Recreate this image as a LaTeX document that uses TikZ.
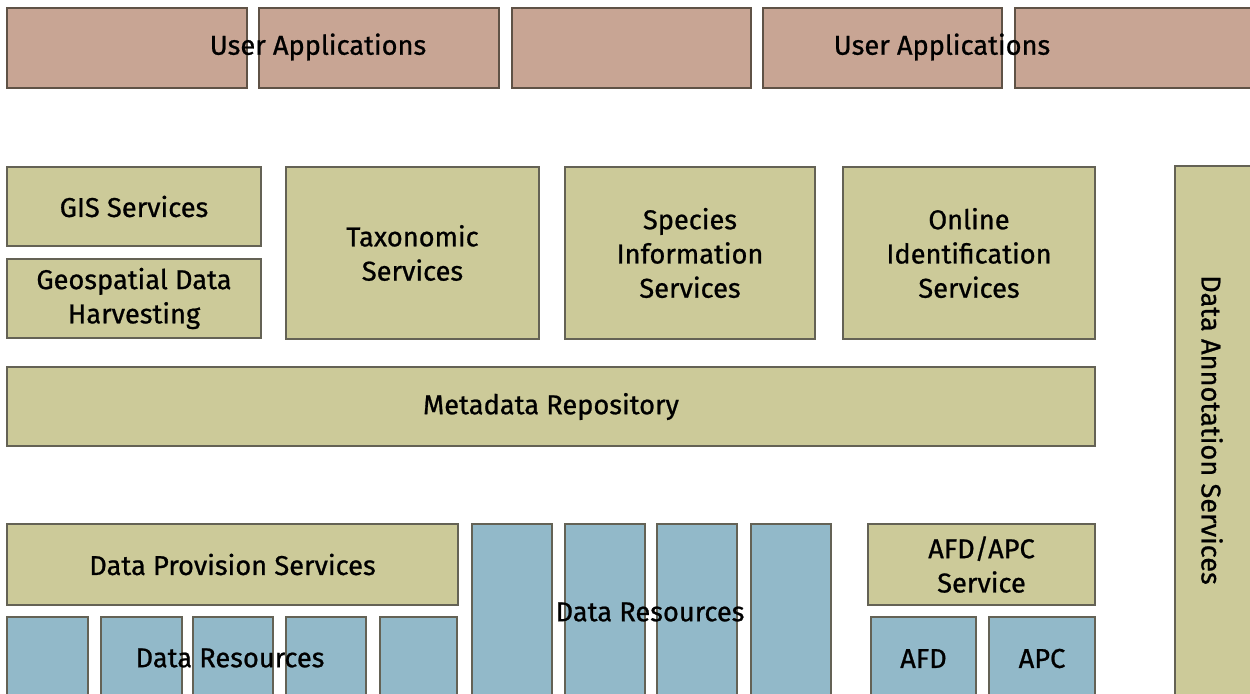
\documentclass[tikz,border=0pt]{standalone}
\usepackage{fontspec}
\setmainfont{Fira Sans}[UprightFeatures={FakeBold=0.8}]
\definecolor{apptan}{RGB}{200,165,148}
\definecolor{olive}{RGB}{204,202,153}
\definecolor{resblue}{RGB}{146,185,201}
\definecolor{edgegray}{RGB}{100,98,85}
\definecolor{edgebrown}{RGB}{95,82,70}
\newcommand\bx[7]{\node[#6, minimum width={(#4-#2)*0.02cm}, minimum height={(#5-#3)*0.02cm}] (#1) at ({(#2+#4)/2},{(#3+#5)/2}) {#7};}
\tikzset{
  base/.style={rectangle, inner sep=0pt, outer sep=0pt, line width=0.8pt, align=center,
    font=\fontsize{15.5}{19.5}\selectfont, text=black},
  appbox/.style={base, fill=apptan, draw=edgebrown},
  svcbox/.style={base, fill=olive, draw=edgegray},
  resbox/.style={base, fill=resblue, draw=edgegray},
  label/.style={inner sep=0pt, align=center, font=\fontsize{15.5}{19.5}\selectfont, text=black}
}
\begin{document}
\begin{tikzpicture}[x=0.02cm, y=-0.02cm]
\useasboundingbox[fill=white] (0,0) rectangle (1250,693);
% top row
\bx{ua1}{7}{8}{247}{88}{appbox}{}
\bx{ua2}{259}{8}{499}{88}{appbox}{}
\bx{ua3}{512}{8}{751}{88}{appbox}{}
\bx{ua4}{763}{8}{1002}{88}{appbox}{}
\bx{ua5}{1015}{8}{1260}{88}{appbox}{}
\node[label] (ualbl1) at (318,47) {User Applications};
\node[label] (ualbl2) at (942,47) {User Applications};
% services
\bx{gis}{7}{167}{261}{246}{svcbox}{GIS Services}
\bx{geo}{7}{259}{261}{338}{svcbox}{Geospatial Data\\Harvesting}
\bx{tax}{286}{167}{539}{339}{svcbox}{Taxonomic\\Services}
\bx{spec}{565}{167}{815}{339}{svcbox}{Species\\Information\\Services}
\bx{online}{843}{167}{1095}{339}{svcbox}{Online\\Identification\\Services}
\bx{meta}{7}{367}{1095}{446}{svcbox}{Metadata Repository}
\bx{annot}{1175}{166}{1260}{700}{svcbox}{}
\node[label, rotate=-90] (annotlbl) at (1212,430) {Data Annotation Services};
% bottom
\bx{dps}{7}{524}{458}{605}{svcbox}{Data Provision Services}
\bx{r1}{7}{617}{88}{700}{resbox}{}
\bx{r2}{101}{617}{182}{700}{resbox}{}
\bx{r3}{193}{617}{273}{700}{resbox}{}
\bx{r4}{286}{617}{366}{700}{resbox}{}
\bx{r5}{380}{617}{457}{700}{resbox}{}
\node[label] (reslbl1) at (230,658) {Data Resources};
\bx{t1}{472}{524}{552}{700}{resbox}{}
\bx{t2}{565}{524}{645}{700}{resbox}{}
\bx{t3}{657}{524}{737}{700}{resbox}{}
\bx{t4}{751}{524}{831}{700}{resbox}{}
\node[label] (reslbl2) at (650,612) {Data Resources};
\bx{afdapc}{868}{524}{1095}{605}{svcbox}{AFD/APC\\Service}
\bx{afd}{871}{617}{976}{700}{resbox}{AFD}
\bx{apc}{989}{617}{1095}{700}{resbox}{APC}
\end{tikzpicture}
\end{document}
